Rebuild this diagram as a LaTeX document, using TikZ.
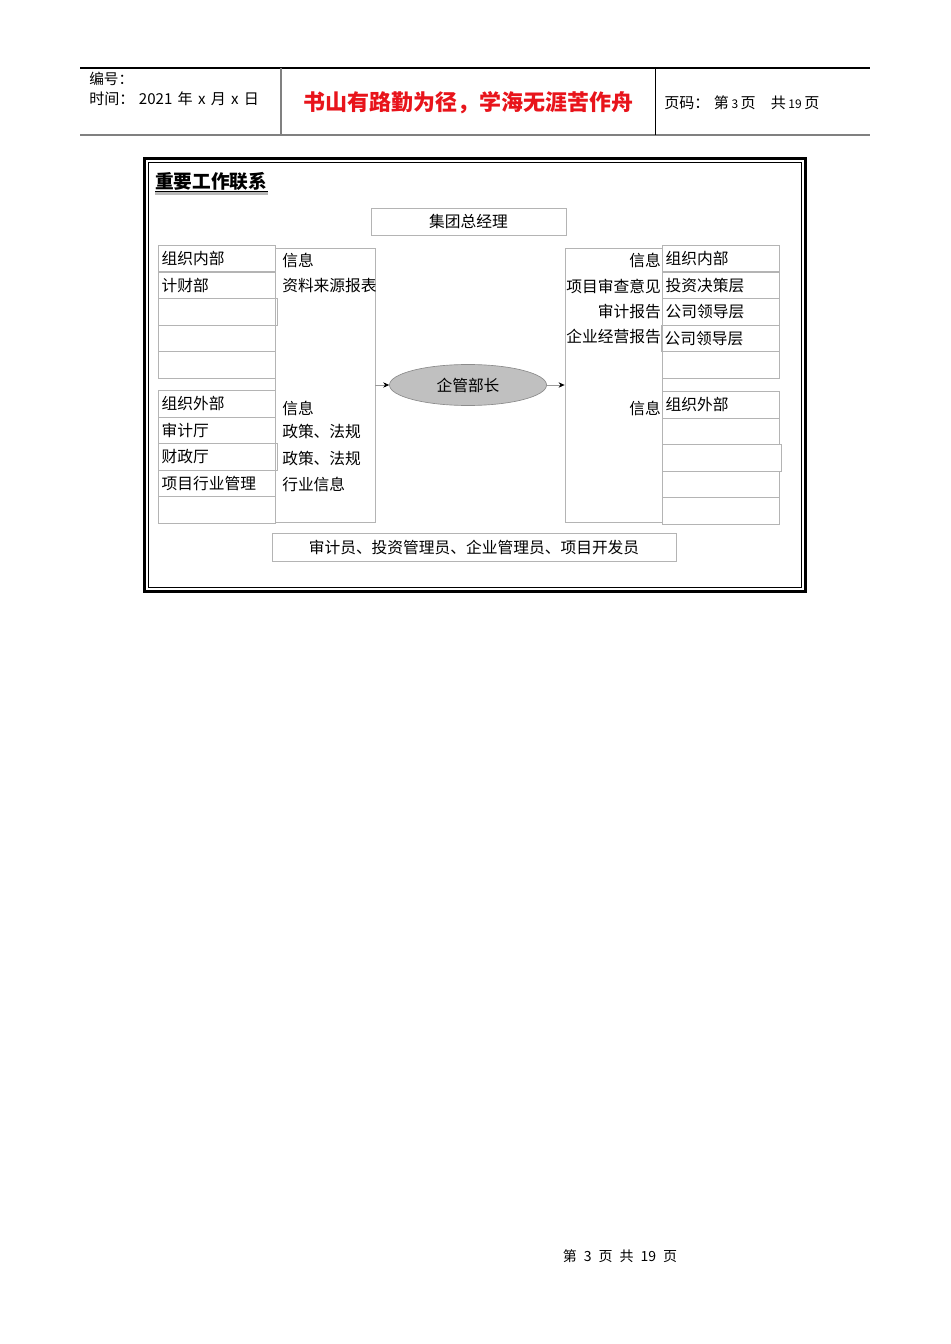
\documentclass[tikz,border=0pt]{standalone}
\usepackage{fontspec}
\setmainfont{Noto Sans CJK SC}
\usetikzlibrary{arrows.meta,shapes.geometric}
\definecolor{cellgray}{HTML}{B4B4B4}
\definecolor{ovalgray}{HTML}{C0C0C0}
\definecolor{mottored}{HTML}{E8141B}

\begin{document}
\begin{tikzpicture}[x=0.75pt,y=-0.75pt,
  txt/.style={font=\fontsize{11.8}{14}\selectfont, inner sep=0pt},
  cell/.style={txt, draw=cellgray, line width=0.6pt, anchor=north west,
    minimum height=19.9pt, inner sep=2.5pt, align=left},
  infobox/.style={draw=cellgray, line width=0.6pt, minimum width=#1, minimum height=205.5pt},
  flow/.style={draw=gray!80, line width=0.5pt, -{Stealth[length=4.5pt,width=4pt,black]}}]
  \useasboundingbox (0,0) rectangle (950,1344);

  % Page header
  \draw[line width=0.8pt] (80,68) -- (870,68);
  \draw[gray, line width=1.5pt] (80,135) -- (870,135);
  \draw[gray, line width=0.8pt] (281,68) -- (281,135);
  \draw[line width=0.6pt] (655,68) -- (655,135);
  \node[anchor=west, inner sep=0pt, font=\fontsize{11}{12}\selectfont] (num) at (89,79) {编号：};
  \node[anchor=west, inner sep=0pt, font=\fontsize{11.3}{12}\selectfont] (date) at (89,99) {时间：\hspace{0.3em}2021\hspace{0.35em}年\hspace{0.35em}x\hspace{0.35em}月\hspace{0.35em}x\hspace{0.35em}日};
  \node[inner sep=0pt, text=mottored, font=\bfseries\fontsize{16.5}{18}\selectfont] (motto) at (468,103) {书山有路勤为径，学海无涯苦作舟};
  \node[anchor=west, inner sep=0pt, font=\fontsize{11.3}{12}\selectfont] (pageno) at (664,103) {页码：\hspace{0.3em}第\,{\small 3}\,页\quad 共\,{\small 19}\,页};

  % Frame and title
  \draw[line width=2.2pt] (144.5,158.5) rectangle (805.5,591.5);
  \draw[line width=0.8pt] (148.5,162.5) rectangle (801.5,587.5);
  \node[anchor=west, inner sep=0pt, font=\bfseries\fontsize{14}{16}\selectfont] (title) at (155,181) {重要工作联系};
  \draw[gray!55, line width=1.6pt] ([yshift=-2.4pt]title.south west) -- ([yshift=-2.4pt]title.south east);
  \draw[line width=0.7pt] ([yshift=-1pt]title.south west) -- ([yshift=-1pt]title.south east);

  % Superior and subordinates
  \node[draw=cellgray, line width=0.6pt, minimum width=146.25pt, minimum height=20.25pt, txt] (ceo) at (468.5,221.5) {集团总经理};
  \node[draw=cellgray, line width=0.6pt, minimum width=303pt, minimum height=21pt, txt] (staff) at (474,547) {审计员、投资管理员、企业管理员、项目开发员};

  % Left side: internal and external parties
  \foreach \i/\name/\w [evaluate=\i as \yy using 245+26.5*\i, evaluate=\w as \tw using \w*0.75-5]
      in {0/组织内部/117, 1/计财部/117, 2//119, 3//117, 4//117}
    \node[cell, text width=\tw pt] (lin\i) at (158,\yy) {\name};
  \foreach \i/\name/\w [evaluate=\i as \yy using 390+26.5*\i, evaluate=\w as \tw using \w*0.75-5]
      in {0/组织外部/117, 1/审计厅/117, 2/财政厅/119, 3/项目行业管理/117, 4//117}
    \node[cell, text width=\tw pt] (lout\i) at (158,\yy) {\name};
  \node[infobox=75pt] (linfo) at (325,385) {};
  \node[txt, anchor=west] (li1) at (282,260) {信息};
  \node[txt, anchor=west] (li2) at (282,286) {资料来源报表};
  \node[txt, anchor=west] (li3) at (282,408) {信息};
  \node[txt, anchor=west] (li4) at (282,432) {政策、法规};
  \node[txt, anchor=west] (li5) at (282,459) {政策、法规};
  \node[txt, anchor=west] (li6) at (282,484) {行业信息};

  % Center
  \node[ellipse, draw=gray!90, fill=ovalgray, line width=0.5pt, minimum width=117.75pt,
    minimum height=30.75pt, inner sep=0pt, txt] (boss) at (468,385) {企管部长};

  % Right side: internal and external parties
  \node[infobox=72.75pt] (rinfo) at (613.5,385) {};
  \foreach \i/\name/\x/\w [evaluate=\i as \yy using 245+26.5*\i, evaluate=\w as \tw using \w*0.75-5]
      in {0/组织内部/662/117, 1/投资决策层/662/117, 2/公司领导层/662/117, 3/公司领导层/661/118, 4//662/117}
    \node[cell, text width=\tw pt] (rin\i) at (\x,\yy) {\name};
  \foreach \i/\name/\w [evaluate=\i as \yy using 391+26.5*\i, evaluate=\w as \tw using \w*0.75-5]
      in {0/组织外部/117, 1//117, 2//119, 3//117, 4//117}
    \node[cell, text width=\tw pt] (rout\i) at (662,\yy) {\name};
  \node[txt, anchor=east] (ri1) at (661,260) {信息};
  \node[txt, anchor=east] (ri2) at (661,286) {项目审查意见};
  \node[txt, anchor=east] (ri3) at (661,312) {审计报告};
  \node[txt, anchor=east] (ri4) at (661,337) {企业经营报告};
  \node[txt, anchor=east] (ri5) at (661,408) {信息};

  \draw[flow] (linfo.east) -- (boss.west);
  \draw[flow] (boss.east) -- (rinfo.west);

  % Page footer
  \node[inner sep=0pt, font=\fontsize{10.5}{12}\selectfont] (footer) at (620,1256) {第\hspace{0.5em}3\hspace{0.5em}页\hspace{0.5em}共\hspace{0.5em}19\hspace{0.5em}页};
\end{tikzpicture}
\end{document}
